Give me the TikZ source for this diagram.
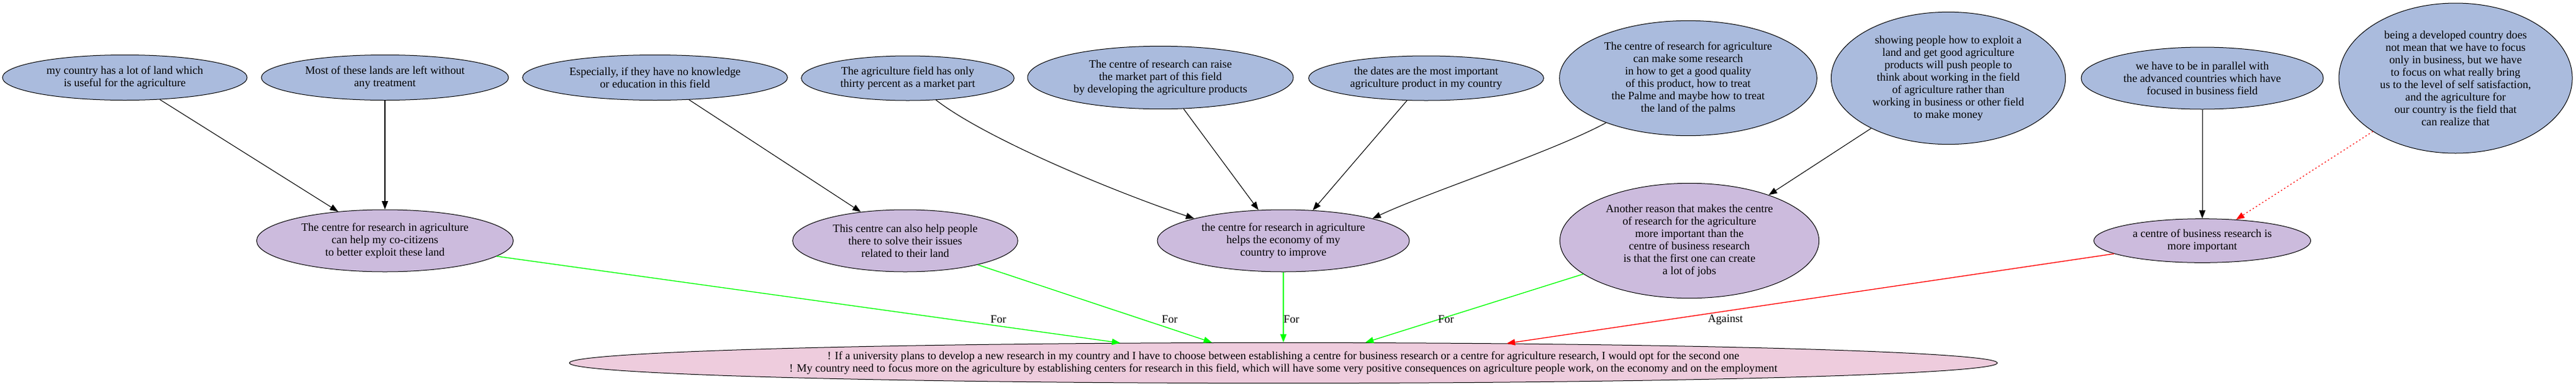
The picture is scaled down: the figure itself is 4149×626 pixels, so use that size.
\documentclass[tikz,border=0pt]{standalone}
\usepackage{fontspec}
\setmainfont{Liberation Serif}
\usetikzlibrary{shapes.geometric,arrows.meta}

\definecolor{premisefill}{RGB}{170,187,221}
\definecolor{claimfill}{RGB}{204,187,221}
\definecolor{thesisfill}{RGB}{238,204,221}
\definecolor{forgreen}{RGB}{0,255,0}
\definecolor{againstred}{RGB}{255,0,0}

\tikzset{
  argbox/.style={ellipse, draw, line width=0.75pt, inner sep=0pt, align=center, font=\fontsize{13.6}{15}\selectfont},
  premisebox/.style={argbox, fill=premisefill},
  claimbox/.style={argbox, fill=claimfill},
  thesisbox/.style={argbox, fill=thesisfill},
  link/.style={-{Triangle[length=10pt,width=7.5pt]}, line width=0.8pt},
  forlink/.style={link, color=forgreen, line width=1pt},
  againstlink/.style={link, color=againstred, line width=1pt},
  attacklink/.style={link, color=againstred, line width=1pt, dash pattern=on 1.5pt off 3pt},
  edgetext/.style={inner sep=0pt, font=\fontsize{13.6}{15}\selectfont}
}

\begin{document}
\begin{tikzpicture}[x=0.75pt,y=0.75pt,yscale=-1,xscale=1]
\useasboundingbox (0,0) rectangle (4149,626);

%Shape: Ellipse (top row)
\node[premisebox, minimum width=295.5pt, minimum height=54.75pt] (land) at (201,125) {my country has a lot of land which\\is useful for the agriculture};
\node[premisebox, minimum width=298.5pt, minimum height=54.75pt] (untreated) at (620,125) {Most of these lands are left without\\any treatment};
\node[premisebox, minimum width=320pt, minimum height=54.75pt] (knowledge) at (1055,125) {Especially, if they have no knowledge\\or education in this field};
\node[premisebox, minimum width=257pt, minimum height=54pt] (marketpart) at (1462,126) {The agriculture field has only\\thirty percent as a market part};
\node[premisebox, minimum width=321pt, minimum height=76pt] (raise) at (1869,125) {The centre of research can raise\\the market part of this field\\by developing the agriculture products};
\node[premisebox, minimum width=284pt, minimum height=54pt] (dates) at (2297,126) {the dates are the most important\\agriculture product in my country};
\node[premisebox, minimum width=311pt, minimum height=139pt] (palms) at (2719,126) {The centre of research for agriculture\\can make some research\\in how to get a good quality\\of this product, how to treat\\the Palme and maybe how to treat\\the land of the palms};
\node[premisebox, minimum width=283pt, minimum height=160pt] (showing) at (3138,126) {showing people how to exploit a\\land and get good agriculture\\products will push people to\\think about working in the field\\of agriculture rather than\\working in business or other field\\to make money};
\node[premisebox, minimum width=292.5pt, minimum height=75pt] (parallel) at (3547,126) {we have to be in parallel with\\the advanced countries which have\\focused in business field};
\node[premisebox, minimum width=282pt, minimum height=181.5pt] (developed) at (3955,126) {being a developed country does\\not mean that we have to focus\\only in business, but we have\\to focus on what really bring\\us to the level of self satisfaction,\\and the agriculture for\\our country is the field that\\can realize that};

%Shape: Ellipse (middle row)
\node[claimbox, minimum width=310pt, minimum height=75pt] (exploit) at (620,388) {The centre for research in agriculture\\can help my co-citizens\\to better exploit these land};
\node[claimbox, minimum width=272pt, minimum height=75pt] (solve) at (1458,388) {This centre can also help people\\there to solve their issues\\related to their land};
\node[claimbox, minimum width=304.5pt, minimum height=75pt] (economy) at (2067,388) {the centre for research in agriculture\\helps the economy of my\\country to improve};
\node[claimbox, minimum width=313pt, minimum height=139pt] (jobs) at (2721,388) {Another reason that makes the centre\\of research for the agriculture\\more important than the\\centre of business research\\is that the first one can create\\a lot of jobs};
\node[claimbox, minimum width=262pt, minimum height=53pt] (business) at (3547,388) {a centre of business research is\\more important};

%Shape: Ellipse (thesis)
\node[thesisbox, minimum width=1725pt, minimum height=49pt] (thesis) at (2067,585) {! If a university plans to develop a new research in my country and I have to choose between establishing a centre for business research or a centre for agriculture research, I would opt for the second one\\! My country need to focus more on the agriculture by establishing centers for research in this field, which will have some very positive consequences on agriculture people work, on the economy and on the employment};

%Straight Lines
\draw[link] (land) -- (exploit.148.5);
\draw[link] (untreated) -- (exploit);
\draw[link] (knowledge) -- (solve.147.4);
\draw[link] (raise) -- (economy.129.2);
\draw[link] (dates) -- (economy.46.2);
\draw[link] (showing) -- (jobs.30.9);
\draw[link] (parallel) -- (business);
\draw[attacklink] (developed) -- (business.32.5);
%Curve Lines
\draw[link] (marketpart) .. controls (1590,225) and (1800,311) .. (economy.166.5);
\draw[link] (palms) .. controls (2500,245) and (2300,310) .. (economy.14.3);

%Straight Lines (to thesis)
\draw[forlink] (exploit) -- (thesis.173.6);
\draw[forlink] (solve) -- (thesis.164.6);
\draw[forlink] (economy) -- (thesis);
\draw[forlink] (jobs) -- (thesis.14.6);
\draw[againstlink] (business) -- (thesis.5.7);

% Text Node
\node[edgetext] (for1) at (1608,515) {For};
\node[edgetext] (for2) at (1884,515) {For};
\node[edgetext] (for3) at (2080,515) {For};
\node[edgetext] (for4) at (2329,515) {For};
\node[edgetext] (against1) at (2779,515) {Against};

\end{tikzpicture}
\end{document}
